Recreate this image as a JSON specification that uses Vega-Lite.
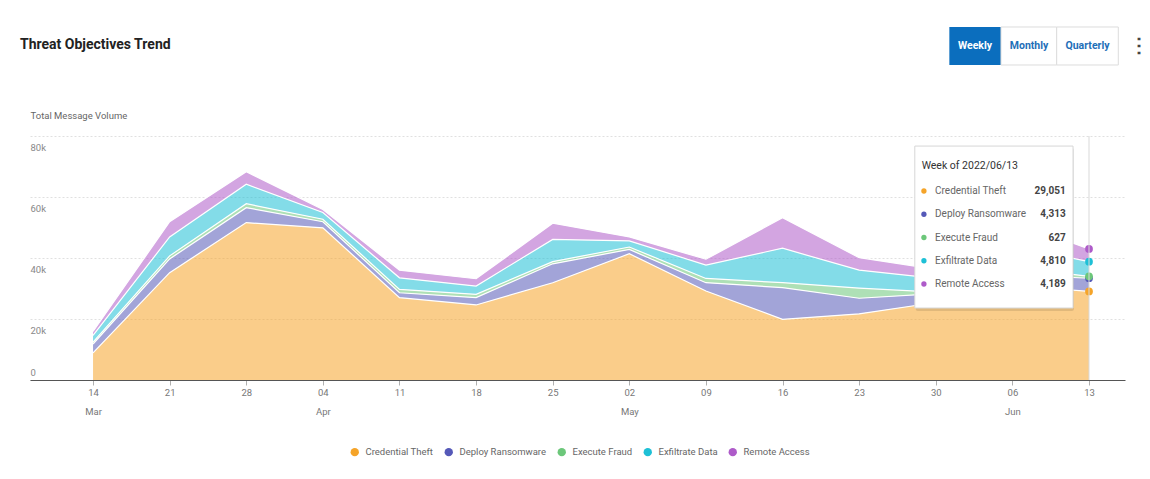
{
  "$schema": "https://vega.github.io/schema/vega-lite/v6.json",
  "width": 1095,
  "height": 244,
  "padding": {"left": 20, "top": 26, "right": 5, "bottom": 5},
  "background": "#ffffff",
  "title": {
    "text": "Threat Objectives Trend",
    "anchor": "start",
    "frame": "bounds",
    "fontSize": 14,
    "fontWeight": "bold",
    "color": "#222222",
    "dx": -10,
    "dy": 30
  },
  "layer": [
    {
      "layer": [
        {
          "data": {
            "values": [
              {"date": "2022-03-14", "Credential Theft": 8900, "Deploy Ransomware": 2900, "Execute Fraud": 600, "Exfiltrate Data": 2200, "Remote Access": 1300},
              {"date": "2022-03-21", "Credential Theft": 35200, "Deploy Ransomware": 4500, "Execute Fraud": 1000, "Exfiltrate Data": 6200, "Remote Access": 5000},
              {"date": "2022-03-28", "Credential Theft": 51600, "Deploy Ransomware": 4900, "Execute Fraud": 1300, "Exfiltrate Data": 6400, "Remote Access": 4100},
              {"date": "2022-04-04", "Credential Theft": 49900, "Deploy Ransomware": 2000, "Execute Fraud": 800, "Exfiltrate Data": 2200, "Remote Access": 1000},
              {"date": "2022-04-11", "Credential Theft": 27000, "Deploy Ransomware": 1600, "Execute Fraud": 1100, "Exfiltrate Data": 3800, "Remote Access": 2500},
              {"date": "2022-04-18", "Credential Theft": 24600, "Deploy Ransomware": 2400, "Execute Fraud": 1100, "Exfiltrate Data": 2700, "Remote Access": 2400},
              {"date": "2022-04-25", "Credential Theft": 31900, "Deploy Ransomware": 6200, "Execute Fraud": 700, "Exfiltrate Data": 7300, "Remote Access": 5300},
              {"date": "2022-05-02", "Credential Theft": 41400, "Deploy Ransomware": 1400, "Execute Fraud": 800, "Exfiltrate Data": 2000, "Remote Access": 1300},
              {"date": "2022-05-09", "Credential Theft": 29200, "Deploy Ransomware": 2700, "Execute Fraud": 1400, "Exfiltrate Data": 4400, "Remote Access": 1900},
              {"date": "2022-05-16", "Credential Theft": 19900, "Deploy Ransomware": 10400, "Execute Fraud": 1600, "Exfiltrate Data": 11300, "Remote Access": 10000},
              {"date": "2022-05-23", "Credential Theft": 21700, "Deploy Ransomware": 5100, "Execute Fraud": 3300, "Exfiltrate Data": 5900, "Remote Access": 4100},
              {"date": "2022-05-30", "Credential Theft": 25400, "Deploy Ransomware": 2900, "Execute Fraud": 500, "Exfiltrate Data": 4500, "Remote Access": 3000},
              {"date": "2022-06-06", "Credential Theft": 31000, "Deploy Ransomware": 3500, "Execute Fraud": 2500, "Exfiltrate Data": 7000, "Remote Access": 8000},
              {"date": "2022-06-13", "Credential Theft": 29051, "Deploy Ransomware": 4313, "Execute Fraud": 627, "Exfiltrate Data": 4810, "Remote Access": 4189}
            ],
            "format": {"parse": {"date": "utc:'%Y-%m-%d'"}}
          },
          "transform": [
            {"fold": ["Credential Theft", "Deploy Ransomware", "Execute Fraud", "Exfiltrate Data", "Remote Access"], "as": ["series", "value"]}
          ],
          "layer": [
            {
              "mark": {"type": "area", "fillOpacity": 0.55, "interpolate": "linear"},
              "encoding": {
                "x": {
                  "field": "date",
                  "type": "temporal",
                  "scale": {
                    "type": "utc",
                    "domain": [
                      {"year": 2022, "month": 3, "date": 8, "hours": 5, "minutes": 46, "utc": true},
                      {"year": 2022, "month": 6, "date": 16, "hours": 6, "minutes": 56, "utc": true}
                    ]
                  },
                  "axis": {
                    "title": null,
                    "values": [
                      {"year": 2022, "month": 3, "date": 14, "utc": true},
                      {"year": 2022, "month": 3, "date": 21, "utc": true},
                      {"year": 2022, "month": 3, "date": 28, "utc": true},
                      {"year": 2022, "month": 4, "date": 4, "utc": true},
                      {"year": 2022, "month": 4, "date": 11, "utc": true},
                      {"year": 2022, "month": 4, "date": 18, "utc": true},
                      {"year": 2022, "month": 4, "date": 25, "utc": true},
                      {"year": 2022, "month": 5, "date": 2, "utc": true},
                      {"year": 2022, "month": 5, "date": 9, "utc": true},
                      {"year": 2022, "month": 5, "date": 16, "utc": true},
                      {"year": 2022, "month": 5, "date": 23, "utc": true},
                      {"year": 2022, "month": 5, "date": 30, "utc": true},
                      {"year": 2022, "month": 6, "date": 6, "utc": true},
                      {"year": 2022, "month": 6, "date": 13, "utc": true}
                    ],
                    "labelExpr": "[utcFormat(datum.value, '%d'), (utcdate(datum.value) <= 7 || datum.value < utc(2022, 2, 15)) ? utcFormat(datum.value, '%b') : '']",
                    "grid": false,
                    "tickSize": 5,
                    "tickColor": "#b0b0b0",
                    "domainColor": "#555555",
                    "labelColor": "#777777",
                    "labelFontSize": 9.5,
                    "labelLineHeight": 19,
                    "labelPadding": 2,
                    "labelFlush": false,
                    "labelOverlap": false
                  }
                },
                "y": {
                  "field": "value",
                  "type": "quantitative",
                  "stack": "zero",
                  "scale": {"domain": [0, 80000], "nice": false},
                  "axis": {
                    "title": "Total Message Volume",
                    "titleAngle": 0,
                    "titleAlign": "left",
                    "titleBaseline": "middle",
                    "titleX": 0,
                    "titleY": -21,
                    "titleFontSize": 9.5,
                    "titleFontWeight": "normal",
                    "titleColor": "#666666",
                    "values": [0, 20000, 40000, 60000, 80000],
                    "labelExpr": "datum.value == 0 ? '0' : format(datum.value / 1000, 'd') + 'k'",
                    "domain": false,
                    "ticks": false,
                    "tickSize": 0,
                    "labelAlign": "left",
                    "labelPadding": 0,
                    "labelFlush": false,
                    "labelBaseline": {"condition": {"test": "datum.value == 0", "value": "bottom"}, "value": "top"},
                    "labelOffset": {"condition": {"test": "datum.value == 0", "value": -3}, "value": 6},
                    "labelColor": "#888888",
                    "labelFontSize": 9.5,
                    "grid": true,
                    "gridColor": "#e0e0e0",
                    "gridDash": [2, 2]
                  }
                },
                "color": {
                  "field": "series",
                  "type": "nominal",
                  "scale": {
                    "domain": ["Credential Theft", "Deploy Ransomware", "Execute Fraud", "Exfiltrate Data", "Remote Access"],
                    "range": ["#F5A429", "#5559B8", "#6CC77A", "#1EC0D6", "#AE5BC9"]
                  },
                  "legend": {
                    "title": null,
                    "orient": "none",
                    "legendX": 320,
                    "legendY": 311,
                    "direction": "horizontal",
                    "padding": 0,
                    "symbolType": "circle",
                    "symbolSize": 70,
                    "symbolOpacity": 1,
                    "symbolStrokeWidth": 0,
                    "labelFontSize": 9.5,
                    "labelColor": "#666666",
                    "columnPadding": 10,
                    "labelOffset": 6
                  }
                },
                "order": {"field": "series", "sort": "ascending"}
              }
            },
            {
              "mark": {"type": "line", "stroke": "#ffffff", "strokeWidth": 1.2, "interpolate": "linear"},
              "encoding": {
                "x": {"field": "date", "type": "temporal"},
                "y": {"field": "value", "type": "quantitative", "stack": "zero"},
                "detail": {"field": "series"},
                "order": {"field": "series", "sort": "ascending"}
              }
            },
            {
              "transform": [{"filter": "time(datum.date) == utc(2022, 5, 13)"}],
              "mark": {"type": "circle", "size": 60, "opacity": 1},
              "encoding": {
                "x": {"field": "date", "type": "temporal"},
                "y": {"field": "value", "type": "quantitative", "stack": "zero"},
                "color": {"field": "series", "type": "nominal"},
                "order": {"field": "series", "sort": "ascending"}
              }
            }
          ]
        },
        {
          "data": {"values": [{}]},
          "layer": [
            {
              "mark": {"type": "rule", "color": "#d9d9d9", "strokeWidth": 1},
              "encoding": {
                "x": {"datum": {"year": 2022, "month": 6, "date": 13, "utc": true}, "type": "temporal"}
              }
            },
            {
              "mark": {"type": "rect", "fill": "#000000", "opacity": 0.1, "cornerRadius": 2},
              "encoding": {
                "x": {"datum": {"year": 2022, "month": 5, "date": 28, "hours": 4, "utc": true}, "type": "temporal"},
                "x2": {"datum": {"year": 2022, "month": 6, "date": 11, "hours": 15, "utc": true}},
                "y": {"datum": 76050, "type": "quantitative"},
                "y2": {"datum": 22620}
              }
            },
            {
              "mark": {"type": "rect", "fill": "#ffffff", "stroke": "#d6d6d6", "strokeWidth": 1},
              "encoding": {
                "x": {"datum": {"year": 2022, "month": 5, "date": 28, "hours": 2, "utc": true}, "type": "temporal"},
                "x2": {"datum": {"year": 2022, "month": 6, "date": 11, "hours": 13, "utc": true}},
                "y": {"datum": 76700, "type": "quantitative"},
                "y2": {"datum": 23600}
              }
            },
            {
              "mark": {"type": "text", "text": "Week of 2022/06/13", "align": "left", "baseline": "middle", "fontSize": 10.5, "color": "#333333"},
              "encoding": {
                "x": {"datum": {"year": 2022, "month": 5, "date": 28, "hours": 17, "utc": true}, "type": "temporal"},
                "y": {"datum": 70160, "type": "quantitative"}
              }
            },
            {
              "mark": {"type": "rect", "fill": "#0b6ebe"},
              "encoding": {
                "x": {"datum": {"year": 2022, "month": 5, "date": 31, "hours": 5, "minutes": 45, "utc": true}, "type": "temporal"},
                "x2": {"datum": {"year": 2022, "month": 6, "date": 4, "hours": 23, "utc": true}},
                "y": {"datum": 115740, "type": "quantitative"},
                "y2": {"datum": 103280}
              }
            },
            {
              "mark": {"type": "rect", "fill": "#ffffff", "stroke": "#dddddd", "strokeWidth": 1},
              "encoding": {
                "x": {"datum": {"year": 2022, "month": 6, "date": 4, "hours": 23, "utc": true}, "type": "temporal"},
                "x2": {"datum": {"year": 2022, "month": 6, "date": 10, "hours": 1, "minutes": 10, "utc": true}},
                "y": {"datum": 115740, "type": "quantitative"},
                "y2": {"datum": 103280}
              }
            },
            {
              "mark": {"type": "rect", "fill": "#ffffff", "stroke": "#dddddd", "strokeWidth": 1},
              "encoding": {
                "x": {"datum": {"year": 2022, "month": 6, "date": 10, "hours": 1, "minutes": 10, "utc": true}, "type": "temporal"},
                "x2": {"datum": {"year": 2022, "month": 6, "date": 15, "hours": 16, "minutes": 15, "utc": true}},
                "y": {"datum": 115740, "type": "quantitative"},
                "y2": {"datum": 103280}
              }
            },
            {
              "mark": {"type": "text", "text": "Weekly", "align": "center", "baseline": "middle", "fontSize": 10.5, "fontWeight": "bold", "color": "#ffffff"},
              "encoding": {
                "x": {"datum": {"year": 2022, "month": 6, "date": 2, "hours": 14, "utc": true}, "type": "temporal"},
                "y": {"datum": 109500, "type": "quantitative"}
              }
            },
            {
              "mark": {"type": "text", "text": "Monthly", "align": "center", "baseline": "middle", "fontSize": 10.5, "fontWeight": "bold", "color": "#1e6fb8"},
              "encoding": {
                "x": {"datum": {"year": 2022, "month": 6, "date": 7, "hours": 12, "minutes": 30, "utc": true}, "type": "temporal"},
                "y": {"datum": 109500, "type": "quantitative"}
              }
            },
            {
              "mark": {"type": "text", "text": "Quarterly", "align": "center", "baseline": "middle", "fontSize": 10.5, "fontWeight": "bold", "color": "#1e6fb8"},
              "encoding": {
                "x": {"datum": {"year": 2022, "month": 6, "date": 12, "hours": 20, "minutes": 40, "utc": true}, "type": "temporal"},
                "y": {"datum": 109500, "type": "quantitative"}
              }
            },
            {
              "mark": {"type": "text", "text": "⋮", "align": "center", "baseline": "middle", "fontSize": 20, "fontWeight": "bold", "color": "#444444"},
              "encoding": {
                "x": {"datum": {"year": 2022, "month": 6, "date": 17, "hours": 13, "minutes": 40, "utc": true}, "type": "temporal"},
                "y": {"datum": 109500, "type": "quantitative"}
              }
            }
          ]
        }
      ]
    },
    {
      "data": {
        "values": [
          {"date": "2022-06-13", "Credential Theft": 29051, "Deploy Ransomware": 4313, "Execute Fraud": 627, "Exfiltrate Data": 4810, "Remote Access": 4189}
        ],
        "format": {"parse": {"date": "utc:'%Y-%m-%d'"}}
      },
      "transform": [
        {"fold": ["Credential Theft", "Deploy Ransomware", "Execute Fraud", "Exfiltrate Data", "Remote Access"], "as": ["series", "value"]}
      ],
      "encoding": {
        "y": {
          "field": "series",
          "type": "nominal",
          "scale": {
            "type": "point",
            "domain": ["Credential Theft", "Deploy Ransomware", "Execute Fraud", "Exfiltrate Data", "Remote Access"],
            "range": [55, 148],
            "padding": 0
          },
          "axis": null
        }
      },
      "layer": [
        {
          "mark": {"type": "circle", "size": 28, "opacity": 1},
          "encoding": {
            "x": {"datum": {"year": 2022, "month": 5, "date": 28, "hours": 22, "utc": true}, "type": "temporal"},
            "color": {"field": "series", "type": "nominal"}
          }
        },
        {
          "mark": {"type": "text", "align": "left", "baseline": "middle", "fontSize": 10, "color": "#666666"},
          "encoding": {
            "x": {"datum": {"year": 2022, "month": 5, "date": 29, "hours": 22, "minutes": 20, "utc": true}, "type": "temporal"},
            "text": {"field": "series", "type": "nominal"}
          }
        },
        {
          "mark": {"type": "text", "align": "right", "baseline": "middle", "fontSize": 10, "fontWeight": "bold", "color": "#444444"},
          "encoding": {
            "x": {"datum": {"year": 2022, "month": 6, "date": 10, "hours": 21, "utc": true}, "type": "temporal"},
            "text": {"field": "value", "type": "quantitative", "format": ",d"}
          }
        }
      ]
    }
  ],
  "resolve": {"scale": {"y": "independent"}},
  "config": {
    "font": "Roboto",
    "view": {"stroke": null}
  }
}
